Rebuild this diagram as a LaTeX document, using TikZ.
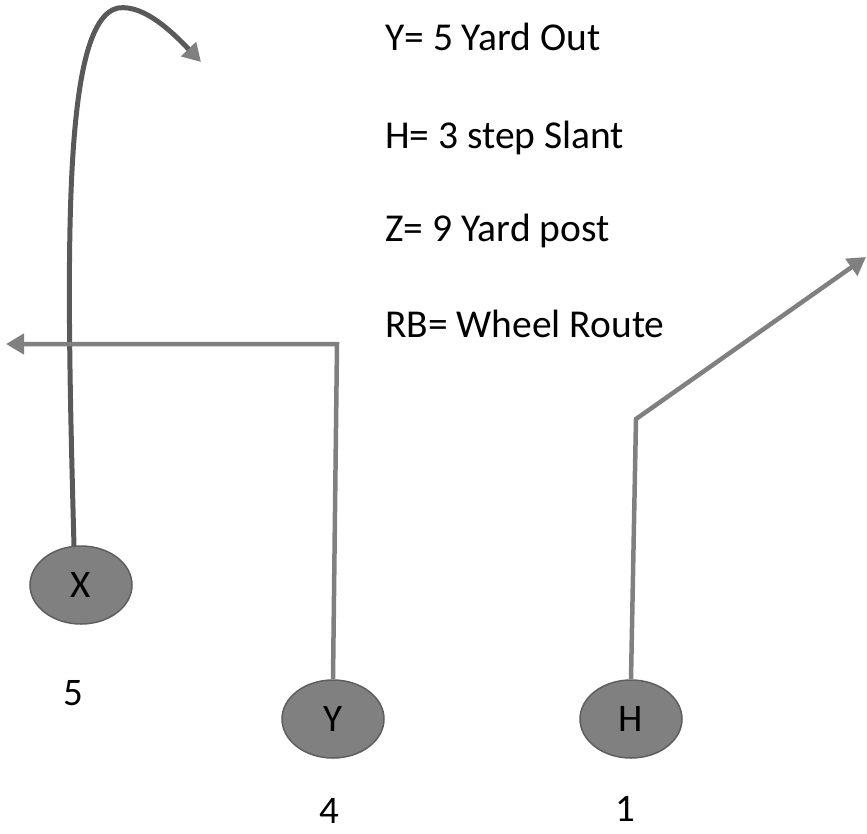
\documentclass[tikz,border=0pt]{standalone}
\usepackage{fontspec}
\setmainfont{Carlito}
\usetikzlibrary{shapes.geometric,arrows.meta}
\definecolor{routegray}{HTML}{808080}
\definecolor{darkroute}{HTML}{595959}
\definecolor{rimgray}{HTML}{5E5E5E}
\begin{document}
\begin{tikzpicture}[x=1pt,y=-1pt,
  player/.style={ellipse,draw=rimgray,line width=1.5pt,fill=routegray,
    minimum width=102pt,minimum height=78pt,inner sep=0pt,
    font=\fontsize{39}{44}\selectfont},
  lbl/.style={font=\fontsize{39}{44}\selectfont,inner sep=0pt},
  note/.style={font=\fontsize{39.5}{44}\selectfont,inner sep=0pt,anchor=base west},
  route/.style={draw=routegray,line width=4.5pt,
    -{Triangle[length=18pt,width=20pt,color=routegray,fill=routegray]}},
  xroute/.style={draw=darkroute,line width=5pt,
    -{Triangle[length=18pt,width=20pt,color=routegray,fill=routegray]}}]
\useasboundingbox (0,0) rectangle (867,833);

% players
\node[player] (X) at (81,585) {X};
\node[player] (Y) at (333,719) {Y};
\node[player] (H) at (631,719) {H};

% numbers
\node[lbl] (n5) at (73,693) {5};
\node[lbl] (n4) at (329,811) {4};
\node[lbl] (n1) at (625,809) {1};

% notes
\node[note] (t1) at (385,50) {Y= 5 Yard Out};
\node[note] (t2) at (385,148) {H= 3 step Slant};
\node[note] (t3) at (385,241) {Z= 9 Yard post};
\node[note] (t4) at (385,337) {RB= Wheel Route};

% route coordinates
\coordinate (xs) at (74,546);
\coordinate (xtop) at (118,8);
\coordinate (xend) at (201,62);
\coordinate (yc) at (337,344);
\coordinate (yend) at (6,344);
\coordinate (hc) at (636,419);
\coordinate (hend) at (866,257);

% routes
\draw[xroute] (xs) .. controls (66,250) and (62,20) .. (xtop)
  .. controls (145,4) and (175,35) .. (xend);
\draw[route] (Y.north) -- (yc) -- (yend);
\draw[route] (H.north) -- (hc) -- (hend);
\end{tikzpicture}
\end{document}
